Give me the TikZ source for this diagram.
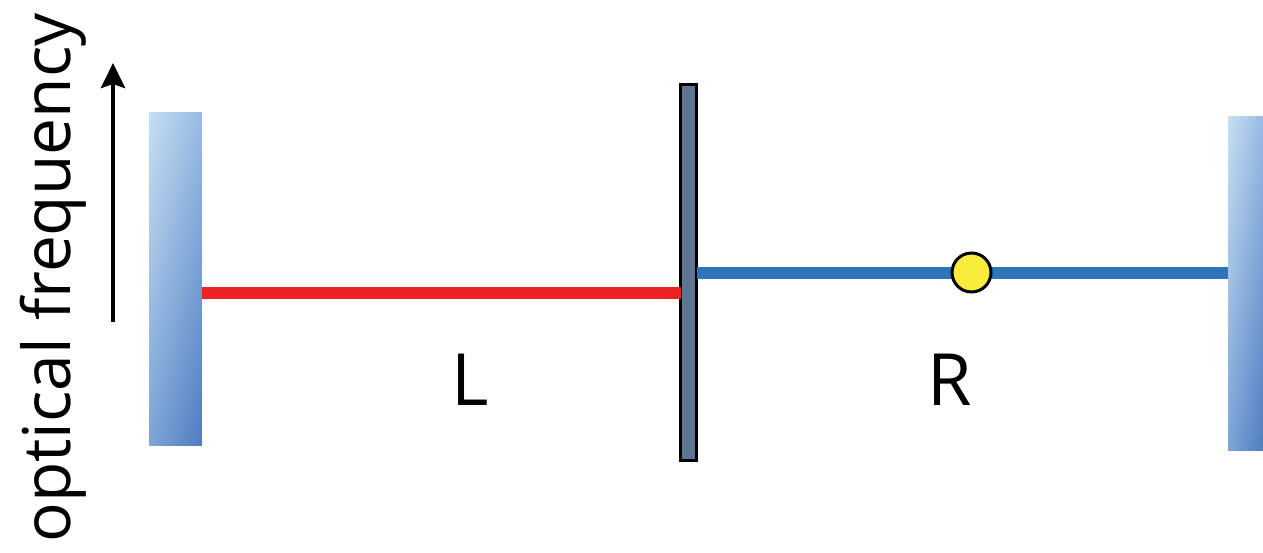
\documentclass[tikz,border=0pt]{standalone}
\usepackage{fontspec}
\setmainfont{Open Sans}
\usetikzlibrary{arrows.meta,positioning,shadings}
\definecolor{mirlight}{HTML}{C8DEF2}
\definecolor{mirdark}{HTML}{4D7CC0}
\definecolor{mirmidA}{HTML}{97BBE3}
\definecolor{mirmidB}{HTML}{7DA5D7}
\definecolor{splitter}{HTML}{5D7592}
\definecolor{beamred}{HTML}{ED2224}
\definecolor{beamblue}{HTML}{2E74BA}
\definecolor{atomyellow}{HTML}{F9EC3A}

\begin{document}
\begin{tikzpicture}[
    x=0.02cm, y=-0.02cm,
    mirror/.style={inner sep=0,outer sep=0,minimum height=6.68cm,
      upper left=mirlight,lower right=mirdark,upper right=mirmidA,lower left=mirmidB},
    beam/.style={line width=0.24cm},
    label/.style={font=\fontsize{41}{48}\selectfont,anchor=base},
    >={Stealth[length=0.5cm,width=0.48cm,inset=0.08cm]}]
  \useasboundingbox (0,0) rectangle (1263,553);
  % mirrors
  \node[mirror,minimum width=1.06cm] (lmirror) at (175.5,279) {};
  \node[mirror,minimum width=0.7cm,minimum height=6.7cm] (rmirror) at (1245.5,283.5) {};
  \node[draw=black,line width=1.7pt,fill=splitter,inner sep=0,outer sep=0,
    minimum width=0.32cm,minimum height=7.52cm] (split) at (688.5,272.5) {};
  % beams
  \draw[beam,beamred] (lmirror.east |- 0,293.5) -- (split.west |- 0,293.5);
  \draw[beam,beamblue] (split.east |- 0,273) -- (rmirror.west |- 0,273);
  \node[circle,draw=black,line width=1.7pt,fill=atomyellow,inner sep=0,
    minimum size=0.78cm] (atom) at (971.5,272.5) {};
  % labels
  \node[label] (llabel) at (470,405) {L};
  \node[label] (rlabel) at (950,405) {R};
  \node[label,font=\fontsize{37.5}{45}\selectfont,rotate=90] (freq) at (70,278) {optical frequency};
  \coordinate (ftail) at (113,322);
  \coordinate (fhead) at (113,63);
  \draw[->,line width=2.6pt] (ftail) -- (fhead);
\end{tikzpicture}
\end{document}
